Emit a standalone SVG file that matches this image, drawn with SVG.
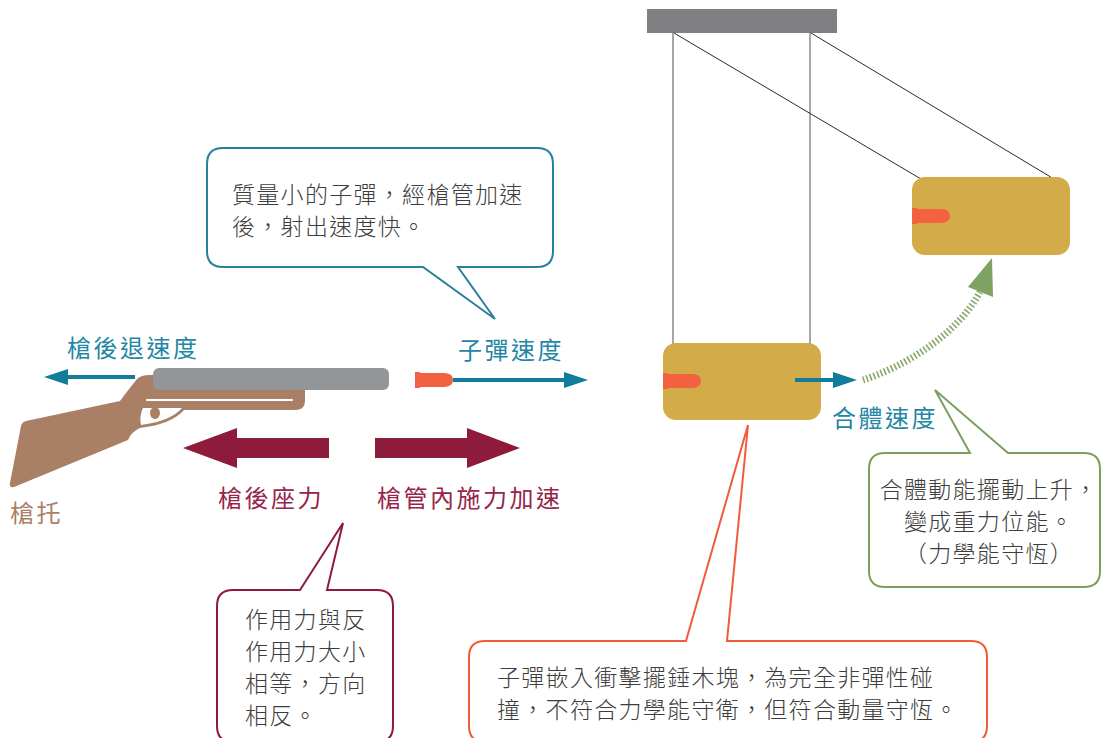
<svg xmlns="http://www.w3.org/2000/svg" width="1102" height="738" viewBox="0 0 1102 738">
  <style>
    .lbl { font-family: "Noto Sans CJK TC", "Noto Sans", sans-serif; font-size: 24px; letter-spacing: 2.5px; }
    .blue { fill: #2386a5; }
    .maroon { fill: #97244a; }
    .brown { fill: #a97f65; }
    .note { font-family: "Noto Sans CJK TC", "Noto Sans", sans-serif; font-size: 23px; font-weight: 300; letter-spacing: 1.3px; fill: #3d3d3d; }
    .bubble { fill: #ffffff; stroke-width: 2; stroke-linejoin: miter; }
    .string { stroke: #8a8a8c; stroke-width: 1.5; }
    .wire { stroke: #2b2b2b; stroke-width: 1; }
    .block { fill: #d3ab48; }
    .bullet { fill: #f26140; }
    .vel { stroke: #0f7d9b; stroke-width: 4; fill: none; }
    .force { fill: #8e1b3c; }
  </style>
  <defs>
    <path id="bulletShape" d="M 0 -8 H 4 L 6 -7 H 29 Q 38 -7 38 0 Q 38 7 29 7 H 6 L 4 8 H 0 Z"/>
    <marker id="ahBlue" viewBox="0 0 24 16" refX="1" refY="8" markerWidth="24" markerHeight="16" markerUnits="userSpaceOnUse" orient="auto">
      <path d="M 0 0 L 24 8 L 0 16 Z" fill="#0f7d9b"/>
    </marker>
  </defs>

  <!-- pendulum support and strings -->
  <g id="support">
    <rect x="647" y="9" width="190" height="24" fill="#808083"/>
    <line class="string" x1="673" y1="33" x2="673" y2="344"/>
    <line class="string" x1="810" y1="33" x2="810" y2="344"/>
    <line class="wire" x1="674" y1="33" x2="921" y2="179"/>
    <line class="wire" x1="811" y1="33" x2="1054" y2="179"/>
  </g>

  <!-- rifle -->
  <g id="rifle">
    <path class="brown" d="M 137 379 Q 141 375 150 375 L 300 375 Q 305 375 305 381 L 305 401 Q 305 410 295 410 L 184 410 Q 172 424 140 428 Q 131 432 128 440 L 14 487 Q 9 488 10 483 L 21 426 Q 22 422 26 421 L 120 401 Q 128 390 137 379 Z"/>
    <line x1="147" y1="400" x2="292" y2="400" stroke="#ffffff" stroke-width="2" stroke-linecap="round"/>
    <path d="M 143 408 L 182 408 Q 171 421 141 425 Q 139 416 143 408 Z" fill="#ffffff"/>
    <ellipse class="brown" cx="155" cy="413" rx="5" ry="6"/>
    <rect x="153" y="368" width="236" height="22" rx="6" fill="#939598"/>
    <text class="lbl brown" x="10" y="522">槍托</text>
  </g>

  <!-- recoil velocity -->
  <g id="recoil-velocity">
    <line class="vel" x1="135" y1="377" x2="67" y2="377" marker-end="url(#ahBlue)"/>
    <text class="lbl blue" x="67" y="357">槍後退速度</text>
  </g>

  <!-- bullet in flight -->
  <g id="bullet">
    <use href="#bulletShape" class="bullet" x="415" y="380"/>
    <line class="vel" x1="453" y1="380" x2="565" y2="380" marker-end="url(#ahBlue)"/>
    <text class="lbl blue" x="458" y="359">子彈速度</text>
  </g>

  <!-- action / reaction forces -->
  <g id="recoil-force">
    <polygon class="force" points="183,448 237,428 237,438 329,438 329,458 237,458 237,468"/>
    <text class="lbl maroon" x="218" y="507">槍後座力</text>
  </g>
  <g id="barrel-force">
    <polygon class="force" points="375,438 467,438 467,428 520,448 467,468 467,458 375,458"/>
    <text class="lbl maroon" x="377" y="507">槍管內施力加速</text>
  </g>

  <!-- pendulum block at the bottom of its swing -->
  <g id="block-low">
    <rect class="block" x="663" y="343" width="158" height="77" rx="13"/>
    <use href="#bulletShape" class="bullet" x="663" y="381"/>
    <line class="vel" x1="795" y1="380" x2="834" y2="380" marker-end="url(#ahBlue)"/>
    <text class="lbl blue" x="832" y="427">合體速度</text>
  </g>

  <!-- pendulum block at the top of its swing -->
  <g id="block-high">
    <rect class="block" x="912" y="177" width="158" height="78" rx="13"/>
    <use href="#bulletShape" class="bullet" x="912" y="216"/>
  </g>

  <!-- swing path -->
  <g id="connectors">
    <path d="M 863 380 C 900 368 955 338 980 292" fill="none" stroke="#86a86b" stroke-width="7" stroke-dasharray="1.6 2.2"/>
    <polygon points="992,258 968,287 993,297" fill="#7ea262"/>
  </g>

  <!-- callouts -->
  <g id="note-bullet">
    <path class="bubble" stroke="#2a7f9a" d="M 223 148 H 537 Q 553 148 553 164 V 251 Q 553 267 537 267 H 458 L 495 319 L 423 267 H 223 Q 207 267 207 251 V 164 Q 207 148 223 148 Z"/>
    <text class="note" x="232" y="203">質量小的子彈，經槍管加速</text>
    <text class="note" x="232" y="235">後，射出速度快。</text>
  </g>

  <g id="note-forces">
    <path class="bubble" stroke="#8e1b3c" d="M 233 590 H 300 L 343 523 L 327 590 H 377 Q 393 590 393 606 V 726 Q 393 742 377 742 H 233 Q 217 742 217 726 V 606 Q 217 590 233 590 Z"/>
    <text class="note" x="245" y="628">作用力與反</text>
    <text class="note" x="245" y="660">作用力大小</text>
    <text class="note" x="245" y="692">相等，方向</text>
    <text class="note" x="245" y="724">相反。</text>
  </g>

  <g id="note-collision">
    <path class="bubble" stroke="#f15a3a" d="M 485 641 H 686 L 748 425 L 727 641 H 971 Q 987 641 987 657 V 726 Q 987 742 971 742 H 485 Q 469 742 469 726 V 657 Q 469 641 485 641 Z"/>
    <text class="note" x="497" y="686">子彈嵌入衝擊擺錘木塊，為完全非彈性碰</text>
    <text class="note" x="497" y="718">撞，不符合力學能守衛，但符合動量守恆。</text>
  </g>

  <g id="note-energy">
    <path class="bubble" stroke="#7aa05f" d="M 885 453 H 970 L 935 390 L 1008 453 H 1084 Q 1100 453 1100 469 V 571 Q 1100 587 1084 587 H 885 Q 869 587 869 571 V 469 Q 869 453 885 453 Z"/>
    <text class="note" x="989" y="498" text-anchor="middle">合體動能擺動上升，</text>
    <text class="note" x="989" y="530" text-anchor="middle">變成重力位能。</text>
    <text class="note" x="989" y="562" text-anchor="middle">（力學能守恆）</text>
  </g>
</svg>
